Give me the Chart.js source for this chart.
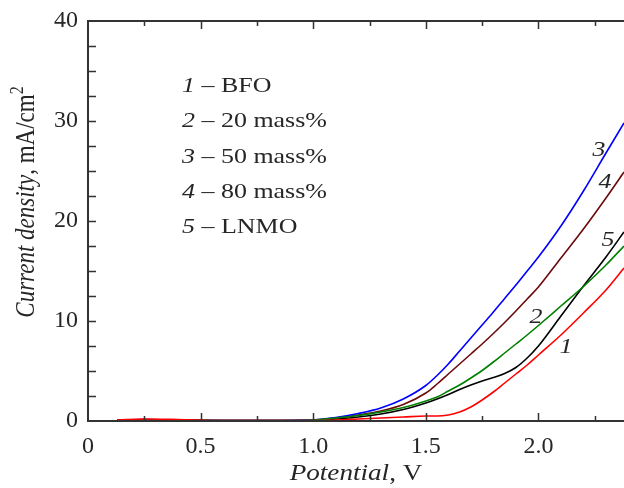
<!DOCTYPE html>
<html>
  <head>
    <script src="https://cdn.jsdelivr.net/npm/chart.js@4"></script>
    <style>
      body { margin: 0; background: #fff; }
    </style>
  </head>

  <body>
    <div style="width: 624px; height: 488px; position: relative">
      <canvas id="canvas"></canvas>
    </div>
    <script>
      // potential, V (shared by every curve)
      const potential = [0.13, 0.25, 0.4, 0.6, 0.8, 1.0, 1.1, 1.2, 1.3, 1.4, 1.5, 1.55, 1.6, 1.65, 1.7, 1.75, 1.8, 1.85, 1.9, 1.95, 2.0, 2.1, 2.2, 2.3, 2.38];

      // current density, mA/cm2
      const bfo    = [0.1, 0.2, 0.15, 0.05, 0.05, 0.05, 0.1, 0.2, 0.3, 0.4, 0.5, 0.5, 0.6, 0.9, 1.4, 2.1, 2.9, 3.8, 4.7, 5.6, 6.6, 8.6, 10.8, 13.1, 15.3];
      const mass20 = [0.1, 0.1, 0.1, 0.05, 0.05, 0.1, 0.3, 0.55, 0.9, 1.35, 2.0, 2.4, 3.0, 3.6, 4.3, 5.05, 5.9, 6.8, 7.7, 8.6, 9.55, 11.5, 13.45, 15.6, 17.5];
      const mass50 = [0.1, 0.15, 0.1, 0.05, 0.05, 0.12, 0.35, 0.75, 1.3, 2.2, 3.55, 4.55, 5.7, 7.0, 8.3, 9.6, 10.9, 12.25, 13.6, 15.0, 16.4, 19.5, 23.0, 26.8, 29.8];
      const mass80 = [0.1, 0.15, 0.1, 0.05, 0.05, 0.1, 0.3, 0.6, 1.0, 1.65, 2.8, 3.7, 4.7, 5.7, 6.7, 7.7, 8.75, 9.85, 11.0, 12.2, 13.4, 16.3, 19.2, 22.3, 24.9];
      const lnmo   = [0.05, 0.05, 0.05, 0.05, 0.05, 0.05, 0.2, 0.4, 0.7, 1.15, 1.8, 2.2, 2.65, 3.15, 3.6, 4.0, 4.35, 4.75, 5.35, 6.3, 7.5, 10.5, 13.5, 16.4, 18.9];

      const seriesNums = ['1', '2', '3', '4', '5'];
      const seriesNames = ['BFO', '20 mass%', '50 mass%', '80 mass%', 'LNMO'];
      const seriesColors = ['#ff0000', '#008000', '#0000ff', '#6b0a0a', '#000000'];
      const seriesData = [bfo, mass20, mass50, mass80, lnmo];

      // curve number labels, placed in data units
      const curveLabelX = [2.122, 1.989, 2.269, 2.296, 2.309];
      const curveLabelY = [7.4, 10.4, 27.1, 23.9, 18.1];

      const xMax = 2.38;
      const yMax = 40;

      const serif = '"Liberation Serif", "Times New Roman", serif';
      const ink = '#262626';
      const wide = 1.18; // the original lettering is a bit wider than Liberation Serif

      // draws text stretched horizontally, returns its width
      function wideText(ctx, text, x, y, font) {
        ctx.font = font;
        ctx.save();
        ctx.translate(x, y);
        ctx.scale(wide, 1);
        ctx.fillText(text, 0, 0);
        ctx.restore();
        return ctx.measureText(text).width * wide;
      }

      // keep the plot box fixed: no extra room for overhanging tick labels
      function fixBox(size) {
        return (s) => {
          if (s.isHorizontal()) s.height = size; else s.width = size;
          s.paddingLeft = s.paddingRight = s.paddingTop = s.paddingBottom = 0;
        };
      }

      const framePlugin = {
        id: 'frame',
        afterDraw(chart) {
          const ctx = chart.ctx;
          const a = chart.chartArea;
          const xs = chart.scales.x;
          const ys = chart.scales.y;
          ctx.save();
          ctx.strokeStyle = '#333';
          ctx.lineWidth = 2;
          ctx.beginPath();
          ctx.moveTo(a.right + 2, a.top);
          ctx.lineTo(a.left, a.top);
          ctx.lineTo(a.left, a.bottom);
          ctx.lineTo(a.right + 2, a.bottom);
          ctx.stroke();

          ctx.lineWidth = 1.5;
          ctx.beginPath();
          for (let i = 1; i * 0.25 < xMax; i++) {
            const px = Math.round(xs.getPixelForValue(i * 0.25)) + 0.5;
            const len = i % 2 === 0 ? 8 : 5;
            ctx.moveTo(px, a.bottom);
            ctx.lineTo(px, a.bottom - len);
            ctx.moveTo(px, a.top);
            ctx.lineTo(px, a.top + len);
          }
          for (let i = 1; i * 2.5 < yMax; i++) {
            const py = Math.round(ys.getPixelForValue(i * 2.5)) + 0.5;
            ctx.moveTo(a.left, py);
            ctx.lineTo(a.left + 8, py);
          }
          ctx.stroke();

          ctx.fillStyle = ink;
          ctx.textBaseline = 'middle';
          ctx.textAlign = 'left';

          // curve numbers
          for (let i = 0; i < seriesNums.length; i++) {
            const px = xs.getPixelForValue(curveLabelX[i]);
            const py = ys.getPixelForValue(curveLabelY[i]);
            ctx.font = 'italic 22px ' + serif;
            const w = ctx.measureText(seriesNums[i]).width * wide;
            wideText(ctx, seriesNums[i], px - w / 2, py, 'italic 22px ' + serif);
          }

          // legend block
          const lx = 182;
          for (let i = 0; i < seriesNums.length; i++) {
            const ly = a.top + 65 + i * 35.4;
            const w = wideText(ctx, seriesNums[i], lx, ly, 'italic 22px ' + serif);
            wideText(ctx, ' \u2013 ' + seriesNames[i], lx + w, ly, '22px ' + serif);
          }

          // x title
          ctx.font = 'italic 23px ' + serif;
          const w1 = ctx.measureText('Potential').width * wide;
          ctx.font = '23px ' + serif;
          const w2 = ctx.measureText(', V').width * wide;
          const tx = (a.left + a.right) / 2 - (w1 + w2) / 2;
          wideText(ctx, 'Potential', tx, 474, 'italic 23px ' + serif);
          wideText(ctx, ', V', tx + w1, 474, '23px ' + serif);

          // y title (rotated)
          ctx.translate(27, 202);
          ctx.rotate(-Math.PI / 2);
          ctx.scale(1, wide);
          ctx.font = 'italic 23px ' + serif;
          const u1 = ctx.measureText('Current density').width;
          ctx.font = '23px ' + serif;
          const u2 = ctx.measureText(', mA/cm').width;
          ctx.font = '16px ' + serif;
          const u3 = ctx.measureText('2').width;
          const sx = -(u1 + u2 + u3) / 2;
          ctx.font = 'italic 23px ' + serif;
          ctx.fillText('Current density', sx, 0);
          ctx.font = '23px ' + serif;
          ctx.fillText(', mA/cm', sx + u1, 0);
          ctx.font = '16px ' + serif;
          ctx.fillText('2', sx + u1 + u2, -8);
          ctx.restore();
        },
      };

      new Chart(document.getElementById('canvas').getContext('2d'), {
        type: 'line',
        data: {
          datasets: seriesData.map((vals, i) => ({
            label: seriesNames[i],
            data: vals.map((v, j) => ({ x: potential[j], y: v })),
            borderColor: seriesColors[i],
            borderWidth: 1.6,
            pointRadius: 0,
            cubicInterpolationMode: 'monotone',
            fill: false,
          })),
        },
        options: {
          responsive: true,
          maintainAspectRatio: false,
          animation: false,
          layout: { padding: { top: 21, right: 0, left: 0, bottom: 0 } },
          plugins: {
            legend: { display: false },
            tooltip: { enabled: false },
          },
          scales: {
            x: {
              type: 'linear',
              min: 0,
              max: xMax,
              grid: { display: false, drawTicks: false },
              border: { display: false },
              afterFit: fixBox(67),
              ticks: {
                stepSize: 0.25,
                autoSkip: false,
                maxRotation: 0,
                padding: 11,
                color: ink,
                font: { family: serif, size: 24 },
                callback: (v) => {
                  if (Math.abs(v * 2 - Math.round(v * 2)) > 1e-6) return '';
                  return v === 0 ? '0' : v.toFixed(1);
                },
              },
            },
            y: {
              min: 0,
              max: yMax,
              grid: { display: false, drawTicks: false },
              border: { display: false },
              afterFit: fixBox(88),
              ticks: {
                stepSize: 2.5,
                autoSkip: false,
                padding: 10,
                color: ink,
                font: { family: serif, size: 24 },
                callback: (v) => (v % 10 === 0 ? String(v) : ''),
              },
            },
          },
        },
        plugins: [framePlugin],
      });
    </script>
  </body>
</html>
